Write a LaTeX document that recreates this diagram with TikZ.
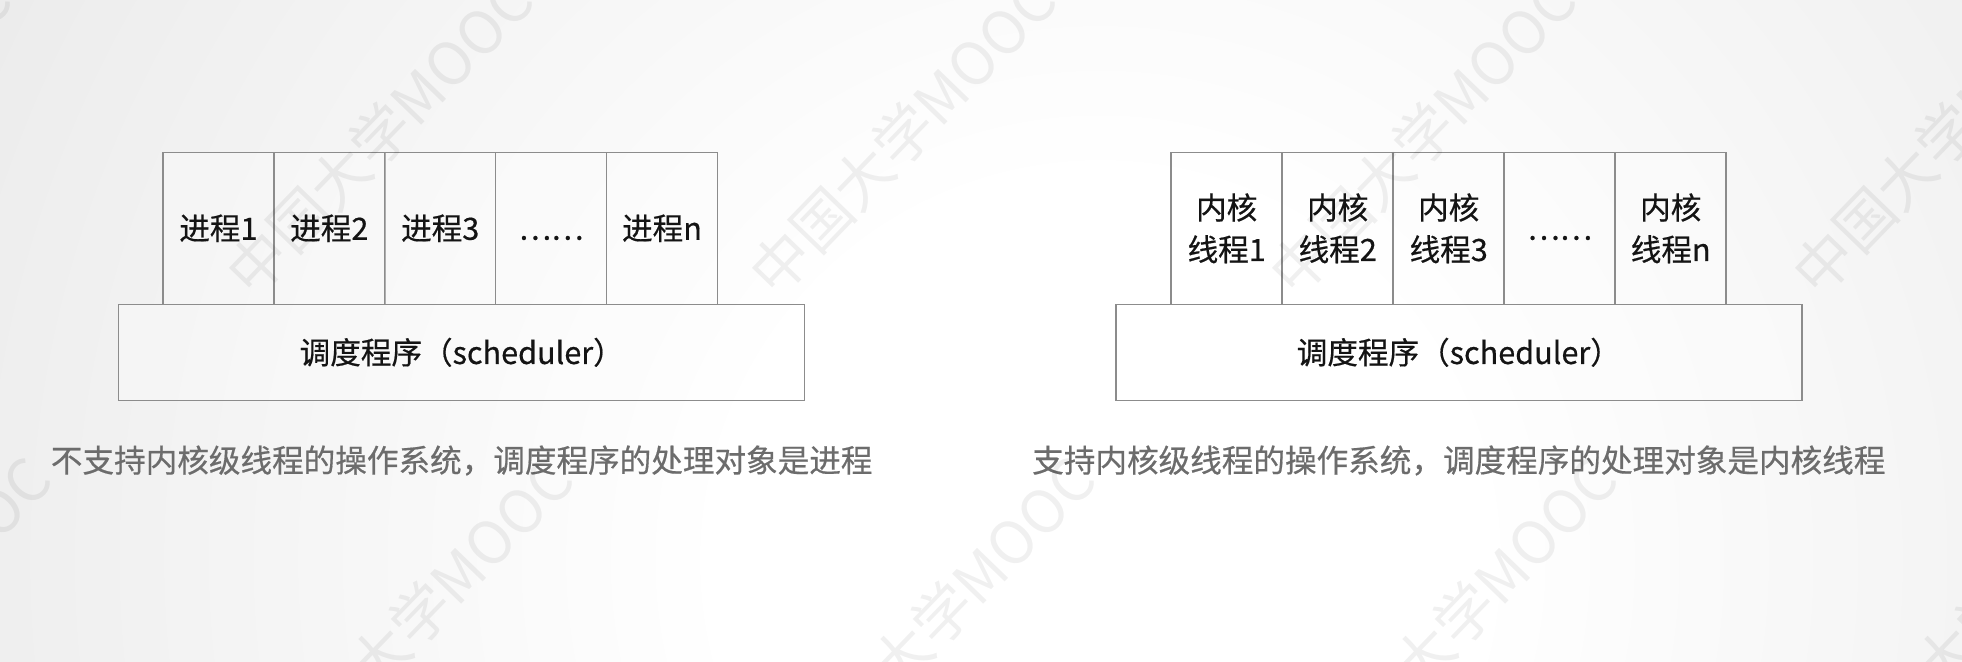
\documentclass[tikz,border=0pt]{standalone}
\usepackage{fontspec}
\setmainfont{Noto Sans CJK SC}
\newfontfamily\boxfont{Noto Sans CJK SC}[FakeBold=0.5]
\definecolor{bgedge}{HTML}{CBCBCB}
\definecolor{boxline}{HTML}{8C8C8C}
\definecolor{boxtext}{HTML}{141414}
\definecolor{captext}{HTML}{6C6C6C}
\pgfdeclareradialshading{bgshade}{\pgfpoint{0bp}{0bp}}{color(0bp)=(white); color(7bp)=(white); color(50bp)=(bgedge)}
\begin{document}
\begin{tikzpicture}[x=0.5pt,y=-0.5pt,
  cell/.style={draw=boxline, line width=0.75pt, fill=white, fill opacity=0.3, text opacity=1,
    text=boxtext, minimum width=55.5pt, minimum height=76pt, inner sep=0pt, align=center,
    font=\boxfont\fontsize{15.3}{20.9}\selectfont},
  sched/.style={cell, minimum width=343pt, minimum height=48pt},
  dots/.style={text=boxtext, inner sep=0pt, font=\boxfont\fontsize{15.3}{18}\selectfont},
  caption/.style={text=captext, inner sep=0pt, font=\boxfont\fontsize{15.8}{19}\selectfont},
  wmark/.style={text=black, text opacity=0.06, inner sep=0pt, rotate=46, anchor=south west,
    font=\fontsize{29.5}{30}\selectfont}]
\useasboundingbox (0,0) rectangle (1962,661);
\begin{scope}
  \clip (0,0) rectangle (1962,661);
  \shade[shading=bgshade] (1100,560) circle (1350);
\end{scope}

% left diagram
\node[sched] (sch1) at (461.7,352.3) {调度程序（scheduler）};
\node[cell] (p1) at (218.4,228.3) {进程1};
\node[cell] (p2) at (329.3,228.3) {进程2};
\node[cell] (p3) at (440.2,228.3) {进程3};
\node[cell] (p4) at (551.1,228.3) {};
\node[cell] (p5) at (662.0,228.3) {进程n};
\node[dots] (d1) at (p4 |- 0,238) {……};
\node[caption] (cap1) at (461.7,460.5) {不支持内核级线程的操作系统，调度程序的处理对象是进程};

% right diagram
\node[sched] (sch2) at (1458.8,352.3) {调度程序（scheduler）};
\node[cell] (k1) at (1226.7,228.3) {内核\\线程1};
\node[cell] (k2) at (1337.7,228.3) {内核\\线程2};
\node[cell] (k3) at (1448.7,228.3) {内核\\线程3};
\node[cell] (k4) at (1559.7,228.3) {};
\node[cell] (k5) at (1670.7,228.3) {内核\\线程n};
\node[dots] (d2) at (k4 |- 0,238) {……};
\node[caption] (cap2) at (1458.8,460.5) {支持内核级线程的操作系统，调度程序的处理对象是内核线程};

% watermarks
\foreach \wx [count=\i] in {-265,257,780,1300,1823}
  \node[wmark] (wa\i) at (\wx,303) {中国大学MOOC};
\foreach \wx [count=\i] in {-225,297,819,1341,1863}
  \node[wmark] (wb\i) at (\wx,782) {中国大学MOOC};
\end{tikzpicture}
\end{document}
